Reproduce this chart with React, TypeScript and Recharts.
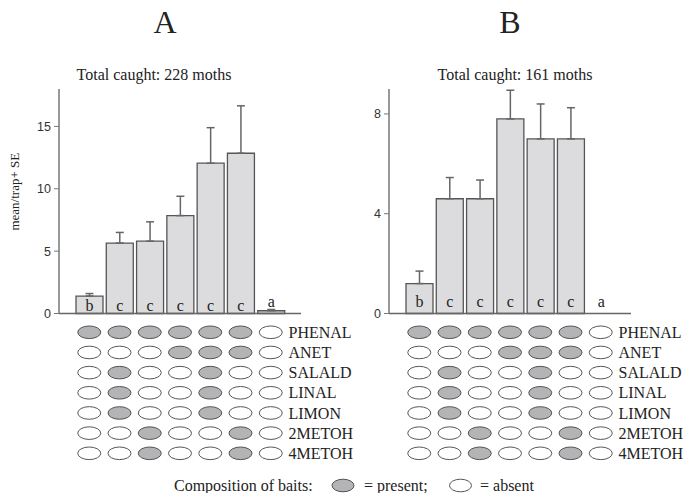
import React from 'react';
import {
  BarChart, Bar, XAxis, YAxis, ErrorBar, LabelList, Cell,
  ScatterChart, Scatter,
} from 'recharts';

// bait numbers along the x axis
const baits = ['1', '2', '3', '4', '5', '6', '7'];

// panel A: 228 moths
const meanA = [1.4, 5.65, 5.8, 7.85, 12.05, 12.85, 0.22];
const seA = [0.2, 0.85, 1.55, 1.55, 2.85, 3.8, 0.1];
const lettersA = ['b', 'c', 'c', 'c', 'c', 'c', 'a'];
const ticksA = [0, 5, 10, 15];

// panel B: 161 moths
const meanB = [1.2, 4.6, 4.6, 7.8, 7.0, 7.0, 0];
const seB = [0.5, 0.85, 0.75, 1.15, 1.4, 1.25, 0];
const lettersB = ['b', 'c', 'c', 'c', 'c', 'c', 'a'];
const ticksB = [0, 4, 8];

// bait composition (same for both panels)
const compounds = ['PHENAL', 'ANET', 'SALALD', 'LINAL', 'LIMON', '2METOH', '4METOH'];
const phenal = [1, 1, 1, 1, 1, 1, 0];
const anet = [0, 0, 0, 1, 1, 1, 0];
const salald = [0, 1, 0, 0, 1, 0, 0];
const linal = [0, 1, 0, 0, 1, 0, 0];
const limon = [0, 1, 0, 0, 1, 0, 0];
const metoh2 = [0, 0, 1, 0, 0, 1, 0];
const metoh4 = [0, 0, 1, 0, 0, 1, 0];
const composition = [phenal, anet, salald, linal, limon, metoh2, metoh4];

const SERIF = '"Liberation Serif", "DejaVu Serif", serif';
const SANS = '"Liberation Sans", Arial, sans-serif';
const W = 322;

const buildBars = (means: number[], ses: number[], letters: string[]) =>
  baits.map((b, i) => ({
    bait: b,
    mean: means[i],
    err: ses[i] > 0 ? [0, ses[i]] : undefined,
    letter: letters[i],
  }));

const cells = composition.flatMap((row, r) =>
  row.map((on, c) => ({ col: c + 1, row: r, on }))
);

const letterContent = (off: number) => (props: any) => {
  const { x, y, width, height, value } = props;
  let base = y + height - off;
  if (height >= 2 && height < 14) base = y - 4;
  return (
    <text x={x + width / 2} y={base} textAnchor="middle" fontFamily={SERIF} fontSize={16} fill="#222">
      {value}
    </text>
  );
};

const Ellipse = (props: any) => {
  const { cx, cy, payload } = props;
  return (
    <ellipse cx={cx} cy={cy} rx={11.5} ry={6.3}
      fill={payload.on ? '#b4b4b6' : '#fff'} stroke="#444" strokeWidth={0.9} />
  );
};

const RowTick = (props: any) => {
  const { x, y, payload } = props;
  return (
    <text x={x - 12.5} y={y} dy="0.35em" textAnchor="start" fontFamily={SERIF} fontSize={16} fill="#222">
      {compounds[payload.value]}
    </text>
  );
};

function Panel({ left, means, ses, letters, max, ticks, off }: any) {
  const data = buildBars(means, ses, letters);
  return (
    <>
      <div style={{ position: 'absolute', left, top: 80 }}>
        <BarChart width={W} height={260} data={data} barSize={27}
          margin={{ top: 9, right: 21, bottom: 0, left: 0 }}>
          <XAxis dataKey="bait" height={26.5} padding={{ left: 15, right: 15 }}
            tick={false} tickSize={3} tickLine={{ stroke: '#666' }}
            axisLine={{ stroke: '#666', strokeWidth: 1.5 }} />
          <YAxis width={59} domain={[0, max]} ticks={ticks} interval={0}
            tickSize={5} tickMargin={3} tickLine={{ stroke: '#777' }}
            axisLine={{ stroke: '#777', strokeWidth: 1.5 }}
            tick={{ fontFamily: SANS, fontSize: 12.5, fill: '#333' }} />
          <Bar dataKey="mean" fill="#dcdcde" stroke="#555" strokeWidth={1.3}
            minPointSize={1} isAnimationActive={false}>
            {data.map((d: any, i: number) => (
              <Cell key={i} fill={d.mean > 0 ? '#dcdcde' : 'none'} stroke={d.mean > 0 ? '#555' : 'none'} />
            ))}
            <ErrorBar dataKey="err" width={4} stroke="#666" strokeWidth={1.5} />
            <LabelList dataKey="letter" content={letterContent(off)} />
          </Bar>
        </BarChart>
      </div>
      <div style={{ position: 'absolute', left, top: 318 }}>
        <ScatterChart width={W + 60} height={150} margin={{ top: 4.2, right: 1, bottom: 4.6, left: 59 }}>
          <XAxis type="number" dataKey="col" domain={[0, 8]} hide />
          <YAxis type="number" dataKey="row" orientation="right" domain={[-0.5, 6.5]} reversed
            ticks={[0, 1, 2, 3, 4, 5, 6]} interval={0} width={80}
            axisLine={false} tickLine={false} tickSize={0} tickMargin={0} tick={<RowTick />} />
          <Scatter data={cells} shape={<Ellipse />} isAnimationActive={false} />
        </ScatterChart>
      </div>
    </>
  );
}

export default function App() {
  return (
    <div style={{ position: 'absolute', left: 0, top: 0, width: 684, height: 493, background: '#fff', overflow: 'hidden' }}>
      <Panel left={0} means={meanA} ses={seA} letters={lettersA} max={18} ticks={ticksA} off={3} />
      <Panel left={330.3} means={meanB} ses={seB} letters={lettersB} max={9} ticks={ticksB} off={7} />
      <svg width={684} height={493} style={{ position: 'absolute', left: 0, top: 0, pointerEvents: 'none' }}>
        <g fontFamily={SERIF} fill="#222">
          <text x={165} y={33.3} textAnchor="middle" fontSize={32}>A</text>
          <text x={510} y={33.3} textAnchor="middle" fontSize={32}>B</text>
          <text x={154} y={80} textAnchor="middle" fontSize={16}>Total caught: 228 moths</text>
          <text x={515} y={80} textAnchor="middle" fontSize={16}>Total caught: 161 moths</text>
          <text x={14.7} y={191.7} textAnchor="middle" dominantBaseline="central" fontSize={13}
            transform="rotate(-90 14.7 191.7)">mean/trap+ SE</text>
          <text x={174} y={491} fontSize={16}>Composition of baits:</text>
          <ellipse cx={343} cy={485.5} rx={11} ry={6.3} fill="#b4b4b6" stroke="#444" strokeWidth={0.9} />
          <text x={364} y={491} fontSize={16}>= present;</text>
          <ellipse cx={460.5} cy={485.5} rx={11} ry={6.3} fill="#fff" stroke="#444" strokeWidth={0.9} />
          <text x={480} y={491} fontSize={16}>= absent</text>
        </g>
      </svg>
    </div>
  );
}
